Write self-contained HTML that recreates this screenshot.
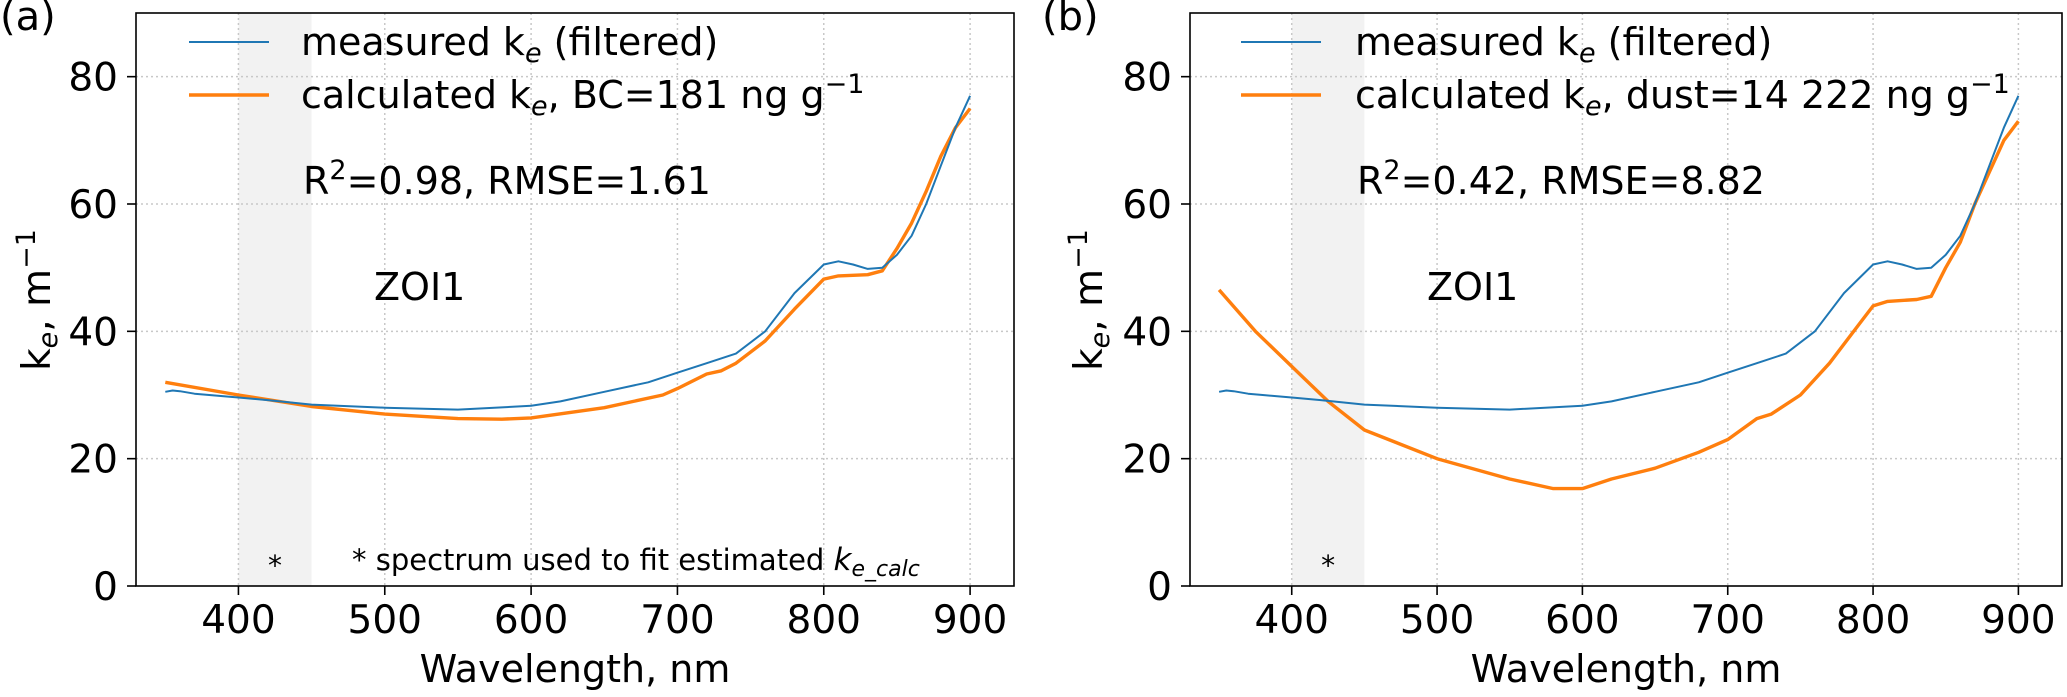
<!DOCTYPE html>
<html><head><meta charset="utf-8"><style>
body{margin:0;background:#fff;}
svg text{font-family:"DejaVu Sans","Liberation Sans",sans-serif;fill:#000;}
</style></head><body>
<svg id="fig" width="2067" height="692" xmlns="http://www.w3.org/2000/svg"></svg>
<script>
const xTicks=[400,500,600,700,800,900];
const yTicks=[0,20,40,60,80];
const wlMeas=[350,355,360,370,380,390,400,420,450,500,550,600,620,650,680,700,720,740,760,780,800,810,820,830,840,850,860,870,880,890,900];
const measured=[30.5,30.7,30.6,30.2,30,29.8,29.6,29.2,28.5,28,27.7,28.3,29,30.5,32,33.5,35,36.5,40,46,50.5,51,50.5,49.8,50,52,55,60,66,72,77];
const wlCalcA=[350,400,450,500,550,580,600,650,690,700,720,730,740,760,780,800,810,830,840,850,860,870,880,890,900];
const calcBC=[32,30,28.2,27,26.3,26.2,26.4,28,30,31,33.3,33.8,35,38.5,43.5,48.2,48.7,48.9,49.5,53,57,62,67.5,72,75];
const wlCalcB=[350,375,400,425,450,500,550,580,600,620,650,680,700,720,730,750,770,790,800,810,830,840,850,860,870,880,890,900];
const calcDust=[46.5,40,34.5,29,24.5,20,16.8,15.3,15.3,16.8,18.5,21,23,26.3,27,30,35,41,44,44.7,45,45.5,50,54,60,65,70,73];
const NS="http://www.w3.org/2000/svg";
const svg=document.getElementById('fig');
function el(tag,attrs,parent,txt){const e=document.createElementNS(NS,tag);for(const k in attrs)e.setAttribute(k,attrs[k]);if(txt!==undefined)e.textContent=txt;(parent||svg).appendChild(e);return e;}
function panel(p){
  const g=el('g',{});
  
  
  const L=p.left,R=p.right,T=13,B=586;
  const X=v=>L+(v-330)/600*(R-L);
  const Y=v=>B-v/90*(B-T);
  const band=el('rect',{x:X(400),y:T,width:X(450)-X(400),height:B-T,fill:'#f2f2f2'},g);
  
  
  xTicks.forEach(t=>{
    const gl=el('line',{x1:X(t),x2:X(t),y1:T,y2:B,stroke:'#c8c8c8','stroke-width':1.5,'stroke-dasharray':'2,3'},g);
    
    
    el('line',{x1:X(t),x2:X(t),y1:B,y2:B+9,stroke:'#000','stroke-width':1.6},g);
    const tl=el('text',{x:X(t),y:633,'font-size':39,'text-anchor':'middle'},g,t);
    
    
  });
  yTicks.forEach(t=>{
    if(t>0){const gl=el('line',{x1:L,x2:R,y1:Y(t),y2:Y(t),stroke:'#c8c8c8','stroke-width':1.5,'stroke-dasharray':'2,3'},g);
    
    }
    el('line',{x1:L-9,x2:L,y1:Y(t),y2:Y(t),stroke:'#000','stroke-width':1.6},g);
    const tl=el('text',{x:L-18,y:Y(t)+14,'font-size':39,'text-anchor':'end'},g,t);
    
    
  });
  const pts=(xs,ys)=>xs.map((x,i)=>X(x).toFixed(1)+','+Y(ys[i]).toFixed(1)).join(' ');
  const lc=el('polyline',{points:pts(p.cx,p.cy),fill:'none',stroke:'#ff7f0e','stroke-width':3.4,'stroke-linejoin':'round'},g);
  
  
  const lm=el('polyline',{points:pts(wlMeas,measured),fill:'none',stroke:'#1f77b4','stroke-width':2,'stroke-linejoin':'round'},g);
  
  
  const frame=el('rect',{x:L,y:T,width:R-L,height:B-T,fill:'none',stroke:'#000','stroke-width':1.6},g);
  
  
  const lg=el('g',{},g);
  
  
  el('line',{x1:p.lx,x2:p.lx+80,y1:42,y2:42,stroke:'#1f77b4','stroke-width':2},lg);
  el('line',{x1:p.lx,x2:p.lx+80,y1:95,y2:95,stroke:'#ff7f0e','stroke-width':3.4},lg);
  const t1=el('text',{x:p.tx,y:55,'font-size':38},lg);
  t1.innerHTML='measured k<tspan font-size="27" dy="7" font-style="italic">e</tspan><tspan dy="-7"> (filtered)</tspan>';
  
  
  const t2=el('text',{x:p.tx,y:108,'font-size':38},lg);
  t2.innerHTML='calculated k<tspan font-size="27" dy="7" font-style="italic">e</tspan><tspan dy="-7">, '+p.conc+' ng g</tspan><tspan font-size="27" dy="-15">−1</tspan>';
  
  
  const st=el('text',{x:p.tx+2,y:194,'font-size':38},g);
  st.innerHTML='R<tspan font-size="27" dy="-15">2</tspan><tspan dy="15">='+p.r2+', RMSE='+p.rmse+'</tspan>';
  
  
  const z=el('text',{x:p.zx,y:300,'font-size':38},g,'ZOI1');
  
  
  const s=el('text',{x:X(425),y:575,'font-size':28,'text-anchor':'middle'},g,'*');
  
  
  const xl=el('text',{x:(L+R)/2,y:682,'font-size':38,'text-anchor':'middle'},g,'Wavelength, nm');
  
  
  const yl=el('text',{x:0,y:0,'font-size':39,'text-anchor':'middle',transform:'translate('+(p.ylx)+',300) rotate(-90)'},g);
  yl.innerHTML='k<tspan font-size="27" dy="7" font-style="italic">e</tspan><tspan dy="-7">, m</tspan><tspan font-size="27" dy="-15">−1</tspan>';
  
  
  const pl=el('text',{x:p.plx,y:30,'font-size':40},g,'('+p.id+')');
  
  
}
panel({id:'a',left:136,right:1014,cx:wlCalcA,cy:calcBC,lx:189,tx:301,conc:'BC=181',r2:'0.98',rmse:'1.61',zx:374,ylx:50,plx:0});
panel({id:'b',left:1190,right:2062,cx:wlCalcB,cy:calcDust,lx:1241,tx:1355,conc:'dust=14 222',r2:'0.42',rmse:'8.82',zx:1427,ylx:1102,plx:1042});
const fn=document.createElementNS(NS,'text');
fn.setAttribute('x',352);fn.setAttribute('y',570);fn.setAttribute('font-size',29);
fn.innerHTML='* spectrum used to fit estimated <tspan font-style="italic" font-size="31">k</tspan><tspan font-style="italic" font-size="22" dy="6">e_calc</tspan>';


svg.appendChild(fn);
</script>
</body></html>
